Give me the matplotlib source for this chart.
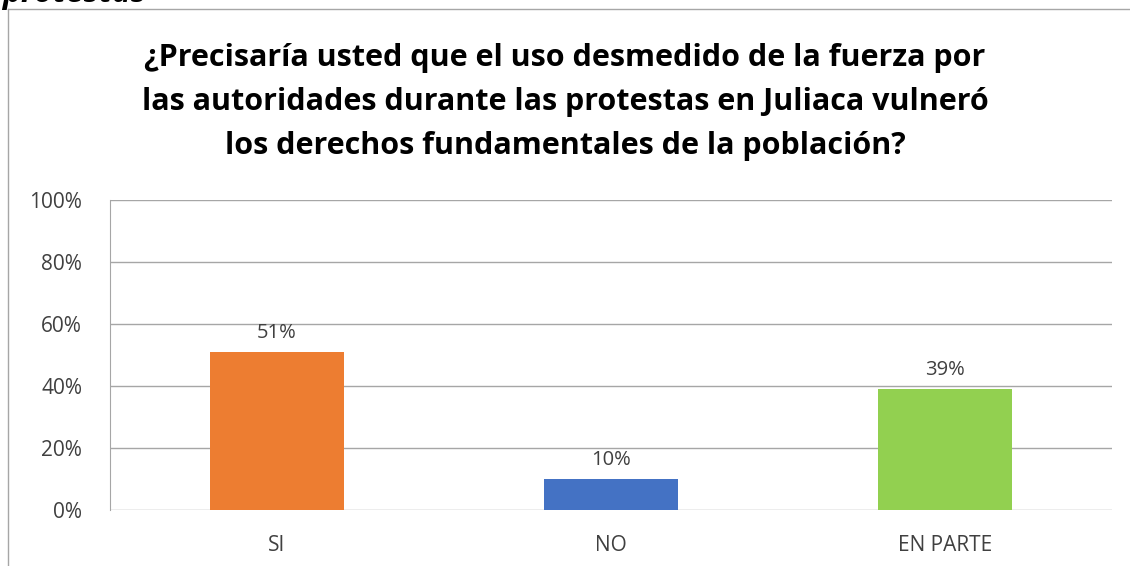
import matplotlib.pyplot as plt
from matplotlib.lines import Line2D
from matplotlib.ticker import FuncFormatter

plt.rcParams['font.family'] = ['Open Sans', 'DejaVu Sans']

categorias = ['SI', 'NO', 'EN PARTE']
valores = [51, 10, 39]
colores = ['#ED7D31', '#4472C4', '#92D050']
titulo = ('¿Precisaría usted que el uso desmedido de la fuerza por\n'
          'las autoridades durante las protestas en Juliaca vulneró\n'
          'los derechos fundamentales de la población?')

fig = plt.figure(figsize=(11.3, 5.66), dpi=100)
ax = fig.add_axes([110/1130, 1 - 510/566, (1112-110)/1130, 310/566])

x = range(len(categorias))
bars = ax.bar(x, valores, width=0.4, color=colores, zorder=3)
for b, v in zip(bars, valores):
    ax.text(b.get_x() + b.get_width()/2, v + 3, f'{v}%', ha='center', va='bottom',
            fontsize=14.5, color='#404040')

ax.set_xlim(-0.5, 2.5)
ax.set_ylim(0, 100)
ax.set_yticks(range(0, 101, 20))
ax.yaxis.set_major_formatter(FuncFormatter(lambda v, p: f'{v:.0f}%'))
ax.set_xticks(list(x))
ax.set_xticklabels(categorias)
ax.tick_params(axis='both', length=0, labelsize=15, colors='#404040')
ax.tick_params(axis='y', pad=20)
ax.tick_params(axis='x', pad=18)
ax.grid(axis='y', color='#A6A6A6', linewidth=1, zorder=0)
for s in ['top', 'right', 'bottom']:
    ax.spines[s].set_visible(False)
ax.spines['left'].set_color('#A6A6A6')

fig.text(0.5, 1 - 102/566, titulo, ha='center', va='center', fontsize=22,
         fontweight='bold', linespacing=1.6, color='black')

# borde del gráfico
fig.add_artist(Line2D([8/1130, 8/1130], [0, 1 - 9/566], transform=fig.transFigure,
                      color='#A6A6A6', linewidth=1))
fig.add_artist(Line2D([8/1130, 1], [1 - 9/566, 1 - 9/566], transform=fig.transFigure,
                      color='#A6A6A6', linewidth=1))

# texto cortado arriba
fig.text(2/1130, 1 + 7/566, 'protestas', ha='left', va='center', fontsize=23,
         fontweight='bold', fontstyle='italic')

fig.savefig('out.png', dpi=100)
